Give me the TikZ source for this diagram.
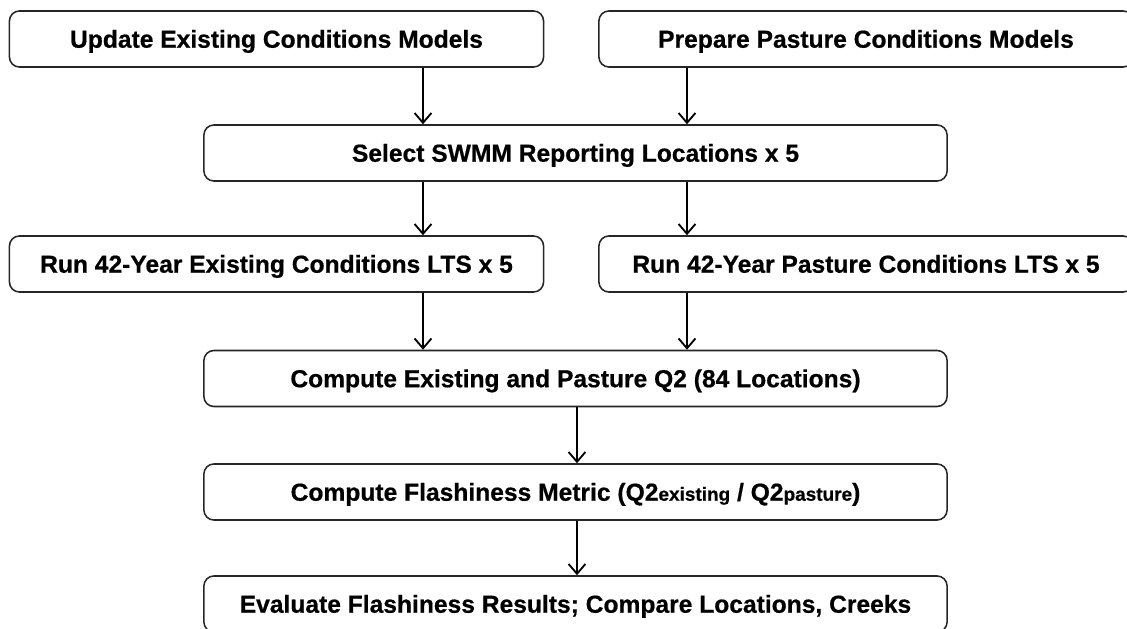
\documentclass[tikz,border=0pt]{standalone}
\usepackage{fontspec}
\setmainfont{Liberation Sans}[BoldFeatures={FakeBold=0.6}]
\usepackage{tikz}
\usetikzlibrary{positioning, arrows.meta, calc}

\begin{document}
\begin{tikzpicture}[x=0.025cm, y=-0.025cm,
  stepbox/.style={draw=black!85, line width=1.1pt, rounded corners=0.25cm,
    minimum height=1.4cm, inner sep=0pt, text height=12.6pt, text depth=0.2pt,
    font=\fontsize{17.5}{21}\selectfont\bfseries},
  halfbox/.style={stepbox, minimum width=13.35cm},
  widebox/.style={stepbox, minimum width=18.575cm},
  arr/.style={-{Straight Barb[length=7pt, width=12pt, line width=1.3pt]}, line width=1.4pt}]
\clip (0,0) rectangle (1127,629);
\fill[white] (0,0) rectangle (1127,629);

% top row: the two model setups
\node[halfbox] (upd) at (276.5,39) {Update Existing Conditions Models};
\node[halfbox] (prep) at (866,39) {Prepare Pasture Conditions Models};
\node[widebox] (sel) at (575.5,153) {Select SWMM Reporting Locations x 5};
% long-term simulations
\node[halfbox] (runex) at (276.5,264) {Run 42-Year Existing Conditions LTS x 5};
\node[halfbox] (runpa) at (866,264) {Run 42-Year Pasture Conditions LTS x 5};
\node[widebox] (q2) at (575.5,378.5) {Compute Existing and Pasture Q2 (84 Locations)};
\node[widebox] (flash) at (575.5,492) {Compute Flashiness Metric (Q2{\fontsize{13.5}{16}\selectfont existing} / Q2{\fontsize{13.5}{16}\selectfont pasture})};
\node[widebox] (eval) at (575.5,604) {Evaluate Flashiness Results; Compare Locations, Creeks};

\coordinate (lx) at (423,0);
\coordinate (rx) at (687,0);
\coordinate (mx) at (577,0);
\draw[arr] (upd.south -| lx) -- (sel.north -| lx);
\draw[arr] (prep.south -| rx) -- (sel.north -| rx);
\draw[arr] (sel.south -| lx) -- (runex.north -| lx);
\draw[arr] (sel.south -| rx) -- (runpa.north -| rx);
\draw[arr] (runex.south -| lx) -- (q2.north -| lx);
\draw[arr] (runpa.south -| rx) -- (q2.north -| rx);
\draw[arr] (q2.south -| mx) -- (flash.north -| mx);
\draw[arr] (flash.south -| mx) -- (eval.north -| mx);
\end{tikzpicture}
\end{document}
